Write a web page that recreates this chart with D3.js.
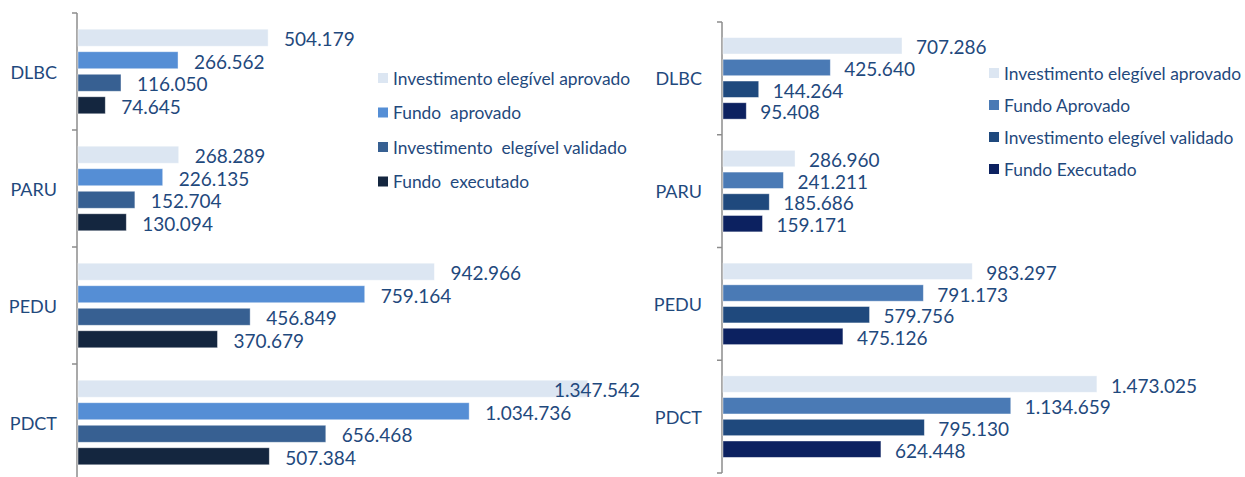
<!DOCTYPE html>
<html>
<head>
<meta charset="utf-8">
<script src="https://cdn.jsdelivr.net/npm/d3@7"></script>
<style>
  body { margin: 0; background: #fff; }
  svg text { font-family: Lato, "Open Sans", sans-serif; fill: #1F497D; white-space: pre; }
</style>
</head>
<body>
<div id="chart"></div>
<script>
// ------------------- //
// DATA
// ------------------- //

var categories = ["DLBC", "PARU", "PEDU", "PDCT"]

// left chart
var leftSeries = ["Investimento elegível aprovado", "Fundo  aprovado", "Investimento  elegível validado", "Fundo  executado"]
var leftValues = [
  [504179, 266562, 116050, 74645],
  [268289, 226135, 152704, 130094],
  [942966, 759164, 456849, 370679],
  [1347542, 1034736, 656468, 507384]
]

// right chart
var rightSeries = ["Investimento elegível aprovado", "Fundo Aprovado", "Investimento elegível validado", "Fundo Executado"]
var rightValues = [
  [707286, 425640, 144264, 95408],
  [286960, 241211, 185686, 159171],
  [983297, 791173, 579756, 475126],
  [1473025, 1134659, 795130, 624448]
]

// number format with dots as thousands separator
var fmt = d3.formatLocale({decimal: ",", thousands: ".", grouping: [3], currency: ["", ""]}).format(",d")

var svg = d3.select("#chart")
  .append("svg")
    .attr("width", 1245)
    .attr("height", 477)

// ------------------- //
// Draw one chart
// ------------------- //
function drawChart(opt) {

  var g = svg.append("g")

  // X scale
  var x = d3.scaleLinear()
    .domain([0, opt.xMax])
    .range([opt.axisX, opt.axisX + opt.xLen])

  // Y scale : categories, then series inside each category
  var y = d3.scaleBand()
    .domain(categories)
    .range([opt.top, opt.bottom])
    .padding(0)

  var ySub = d3.scaleBand()
    .domain(d3.range(opt.series.length))
    .range([0, y.bandwidth()])
    .paddingInner(0.245)
    .paddingOuter(0.72)

  // axis line + ticks at band boundaries
  g.append("line")
    .attr("x1", opt.axisX).attr("x2", opt.axisX)
    .attr("y1", opt.top).attr("y2", opt.bottom)
    .attr("stroke", "#8c8c8c").attr("stroke-width", 1.5)
  g.selectAll(".tick")
    .data(d3.range(categories.length + 1))
    .enter()
    .append("line")
      .attr("x1", opt.axisX - 5).attr("x2", opt.axisX)
      .attr("y1", function(i){ return opt.top + i * y.step() })
      .attr("y2", function(i){ return opt.top + i * y.step() })
      .attr("stroke", "#8c8c8c").attr("stroke-width", 1.5)

  // category labels
  g.selectAll(".cat")
    .data(categories)
    .enter()
    .append("text")
      .attr("x", opt.axisX - 20)
      .attr("y", function(d){ return y(d) + y.bandwidth()/2 })
      .attr("text-anchor", "end")
      .attr("dominant-baseline", "central")
      .style("font-size", "18px")
      .text(function(d){ return d })

  // bars
  var rows = []
  categories.forEach(function(c, ci){
    opt.values[ci].forEach(function(v, si){ rows.push({cat: c, s: si, v: v}) })
  })

  g.selectAll(".bar")
    .data(rows)
    .enter()
    .append("rect")
      .attr("x", x(0) + 1)
      .attr("y", function(d){ return y(d.cat) + ySub(d.s) })
      .attr("width", function(d){ return x(d.v) - x(0) - 1 })
      .attr("height", ySub.bandwidth())
      .style("fill", function(d){ return opt.colors[d.s] })
      .style("stroke", "#fff")
      .style("stroke-opacity", 0.5)
      .style("stroke-width", 0.8)

  // value labels
  g.selectAll(".val")
    .data(rows)
    .enter()
    .append("text")
      .attr("y", function(d){ return y(d.cat) + ySub(d.s) + ySub.bandwidth()/2 + 1 })
      .attr("dominant-baseline", "central")
      .style("font-size", "19px")
      .text(function(d){ return fmt(d.v) })
      .attr("x", function(d){
        var w = this.getComputedTextLength()
        var px = x(d.v) + opt.gap
        if (px + w > opt.labelMax) px = opt.labelMax - w
        return px
      })

  // legend
  var leg = g.selectAll(".leg")
    .data(opt.series)
    .enter()
    .append("g")
      .attr("transform", function(d, i){ return "translate(" + opt.legX + "," + (opt.legY + i * opt.legStep) + ")" })
  leg.append("rect")
    .attr("x", 0).attr("y", -5)
    .attr("width", 10).attr("height", 10)
    .style("fill", function(d, i){ return opt.colors[i] })
  leg.append("text")
    .attr("x", 15)
    .attr("y", 0)
    .attr("dominant-baseline", "central")
    .style("font-size", "17.4px")
    .text(function(d){ return d })
}

drawChart({
  series: leftSeries, values: leftValues,
  colors: ["#DCE6F2", "#558ED5", "#376092", "#14263F"],
  axisX: 77, xMax: 1400000, xLen: 530.6,
  top: 13, bottom: 481, gap: 16, labelMax: 640,
  legX: 378, legY: 78, legStep: 34.5
})

drawChart({
  series: rightSeries, values: rightValues,
  colors: ["#DCE6F2", "#4A7AB5", "#1F497D", "#0C2160"],
  axisX: 722, xMax: 1600000, xLen: 407.2,
  top: 22, bottom: 473, gap: 14, labelMax: 1240,
  legX: 989, legY: 73, legStep: 32
})
</script>
</body>
</html>
